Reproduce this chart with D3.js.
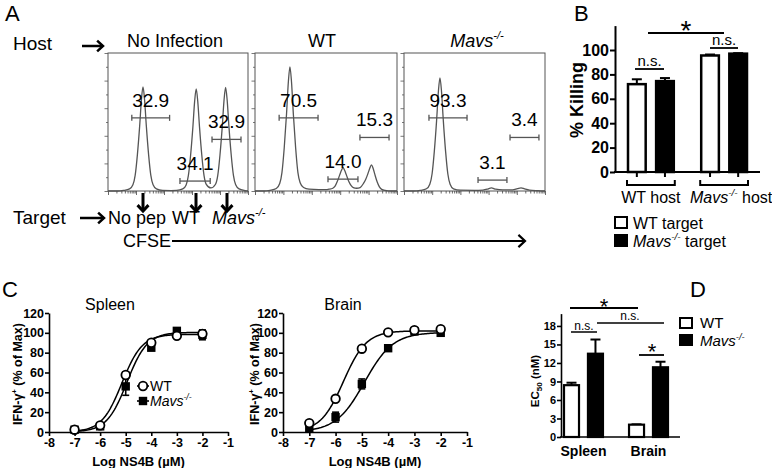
<!DOCTYPE html>
<html><head><meta charset="utf-8">
<script src="https://cdn.jsdelivr.net/npm/d3@7"></script>
<style>
body{margin:0;background:#fff}
svg{font-family:"Liberation Sans",Arial,Helvetica,sans-serif}
</style></head><body>
<svg id="c" width="772" height="468"></svg>
<script>
// ================= DATA =================
// Panel A – CFSE histograms: [CFSE channel 0-100, % of panel height]
const histTitles = ["No Infection", "WT", "Mavs"];
const histNoInfection = [[0,0],[7,0],[11,0.4],[15.4,1.5],[17.8,4.5],[19.4,11.3],[21,26.4],[22.6,46.8],[23.9,66.4],[25,75.5],[26.1,66.4],[27.4,46.8],[29,26.4],[30.6,11.3],[32.2,4.5],[34.6,1.5],[39,0.4],[45,0.3],[49,0.4],[53.4,1.5],[55.8,4.4],[57.4,11.1],[59,25.9],[60.6,45.9],[61.9,65.1],[63,74],[64.1,65.1],[65.4,45.9],[67,25.9],[68.6,11.1],[70.2,4.8],[73.5,2.2],[76.8,4.9],[78.4,11.3],[80,26.3],[81.6,46.5],[82.9,66],[84,75],[85.1,66],[86.4,46.5],[88,26.3],[89.6,11.3],[91.2,4.5],[93.6,1.5],[98,0.3],[100,0]];
const histWT = [[0,0],[6,0],[10.6,0.5],[15,1.8],[17.4,5.4],[19,13.5],[20.6,31.5],[22.2,55.8],[23.5,79.2],[24.6,90],[25.7,79.2],[27,55.8],[28.6,31.5],[30.2,13.5],[31.8,6],[34.2,2.5],[38,1.3],[45,1],[50,1],[52,1.3],[54.8,2],[56.4,3.5],[58,7],[59.6,11.5],[60.9,15],[62,17],[63.1,15],[64.4,11.5],[66,7],[67.6,4],[69.2,2.5],[71.6,2],[74,2.5],[76.4,5.5],[78,8.5],[79.6,12.8],[80.9,16.7],[82,19],[83.1,16.7],[84.4,12],[86,6.7],[87.6,3],[89.2,1.2],[91.6,0.4],[96,0],[100,0]];
const histMavs = [[0,0],[7,0],[11.5,0.4],[15.9,1.6],[18.3,4.9],[19.9,12.3],[21.5,28.7],[23.1,50.8],[24.4,72.2],[25.5,82],[26.6,72.2],[27.9,50.8],[29.5,28.7],[31.1,12.3],[32.7,4.9],[35.1,1.6],[40,0.6],[50,0.5],[56,0.7],[59,1.3],[62,2.3],[65,1.3],[70,0.8],[77,0.8],[80.5,1.7],[83,2.3],[85.5,1.5],[89,0.6],[95,0.2],[100,0]];
// gates: [from, to, height(%), percent label]
const gatesNoInfection = [[17,44,53,"32.9"],[51.4,73,7.2,"34.1"],[74.3,95,37.4,"32.9"]];
const gatesWT = [[17,44.4,53,"70.5"],[51.4,72.5,8.6,"14.0"],[73.9,94.4,38.8,"15.3"]];
const gatesMavs = [[17.7,44.7,53,"93.3"],[52.5,73,7.9,"3.1"],[75.2,95.7,38.8,"3.4"]];

// Panel B – % killing
const hostGroups = ["WT host", "Mavs host"];
const targetGroups = ["WT target", "Mavs target"];
const killWT = [72, 95.5];
const killWTErr = [4, 0.8];
const killMavs = [74.5, 97];
const killMavsErr = [2.5, 0.4];
const killTicks = [0, 20, 40, 60, 80, 100];

// Panel C – dose response
const doseLog = [-7, -6, -5, -4, -3, -2];
const spleenWT = [2.3, 6.7, 57.5, 90, 97, 99];
const spleenWTErr = [0, 0, 3, 2, 2, 3];
const spleenMavs = [2.3, 5.7, 46, 85, 102, 98];
const spleenMavsErr = [0, 1, 9, 2, 2, 5];
const brainWT = [9, 33.5, 84, 100.5, 102.7, 103.7];
const brainWTErr = [0, 1, 2, 1, 1, 1];
const brainMavs = [4, 15, 48.5, 84.5, 101.5, 100];
const brainMavsErr = [1, 5, 5, 2, 1, 1];
// fitted curves: [bottom, top, logEC50, hill slope]
const fitSpleenWT = [0, 98.5, -5.15, 1.1];
const fitSpleenMavs = [0, 100.5, -4.95, 1.1];
const fitBrainWT = [0, 102, -5.7, 1.0];
const fitBrainMavs = [0, 100.5, -4.9, 0.8];
const doseTicks = [-8, -7, -6, -5, -4, -3, -2, -1];
const ifnTicks = [0, 20, 40, 60, 80, 100, 120];

// Panel D – EC50
const organs = ["Spleen", "Brain"];
const ec50WT = [8.4, 2.0];
const ec50WTErr = [0.4, 0.05];
const ec50Mavs = [13.5, 11.3];
const ec50MavsErr = [2.3, 0.9];
const ec50Ticks = [0, 3, 6, 9, 12, 15, 18];

// ================= DRAWING =================
const svg = d3.select("#c");

function addText(x, y, parts, o) {
  const t = svg.append("text").attr("x", x).attr("y", y)
    .attr("font-size", o.size).attr("font-weight", o.weight || "normal")
    .attr("text-anchor", o.anchor || "start").attr("fill", o.fill || "#000");
  if (o.rotate) t.attr("transform", `rotate(-90,${x},${y})`);
  if (typeof parts === "string") parts = [{t: parts}];
  let shift = 0;
  parts.forEach(p => {
    const ts = t.append("tspan").text(p.t);
    if (p.i) ts.attr("font-style", "italic");
    let target = 0, fs = null;
    if (p.sup) { target = -o.size * 0.42; fs = o.size * 0.62; }
    if (p.sub) { target = o.size * 0.22; fs = o.size * 0.7; }
    if (fs) ts.attr("font-size", fs);
    if (target !== shift) { ts.attr("dy", target - shift); shift = target; }
  });
  return t;
}
const mavsParts = (suffix) => [{t: "Mavs", i: 1}, {t: "-/-", i: 1, sup: 1}].concat(suffix ? [{t: suffix}] : []);

function arrow(g, x1, y1, x2, y2, w, head) {
  g.append("line").attr("x1", x1).attr("y1", y1).attr("x2", x2).attr("y2", y2)
    .attr("stroke", "#000").attr("stroke-width", w);
  const a = Math.atan2(y2 - y1, x2 - x1);
  const pts = [[x2 - head * Math.cos(a - 0.75), y2 - head * Math.sin(a - 0.75)], [x2, y2],
               [x2 - head * Math.cos(a + 0.75), y2 - head * Math.sin(a + 0.75)]];
  g.append("path").attr("d", d3.line()(pts)).attr("fill", "none")
    .attr("stroke", "#000").attr("stroke-width", w).attr("stroke-linejoin", "miter");
}

function styleAxis(ax, size, sw) {
  ax.attr("font-family", null).attr("font-size", null);
  ax.selectAll("path.domain").attr("stroke", "#000").attr("stroke-width", sw);
  ax.selectAll(".tick line").attr("stroke", "#000").attr("stroke-width", sw);
  ax.selectAll(".tick text").attr("font-size", size).attr("font-weight", "bold").attr("fill", "#000");
}

// ---------- Panel A ----------
const gA = svg.append("g");
addText(5, 21, "A", {size: 22});
addText(13, 50, "Host", {size: 19});
arrow(gA, 82, 46, 103, 46, 2.5, 8);

const histData = [histNoInfection, histWT, histMavs];
const gateData = [gatesNoInfection, gatesWT, gatesMavs];
const histBox = [[108, 248], [255, 397], [404, 545]];
const titleX = [175, 322, 477];
const hTop = 53, hBot = 191;

histData.forEach((hd, k) => {
  const x = d3.scaleLinear().domain([0, 100]).range(histBox[k]);
  const y = d3.scaleLinear().domain([0, 100]).range([hBot, hTop]);
  const g = svg.append("g");
  g.append("rect").attr("x", x(0)).attr("y", y(100)).attr("width", x(100) - x(0)).attr("height", y(0) - y(100))
    .attr("fill", "none").attr("stroke", "#555").attr("stroke-width", 1);
  const ay = g.append("g").attr("transform", `translate(${x(0)},0)`)
    .call(d3.axisLeft(y).tickValues(d3.range(0, 101, 10)).tickSize(3).tickFormat("").tickSizeOuter(0));
  ay.selectAll("path.domain").remove();
  ay.selectAll(".tick line").attr("stroke", "#555").attr("stroke-width", 0.8)
    .attr("x2", (d) => d % 20 === 0 ? -3.5 : -2);
  const lx = d3.scaleLog().domain([1, 1e5]).range(histBox[k]);
  const ax = g.append("g").attr("transform", `translate(0,${hBot})`)
    .call(d3.axisBottom(lx).tickValues(lx.ticks()).tickFormat("").tickSize(3).tickSizeOuter(0));
  ax.selectAll("path.domain").remove();
  ax.selectAll(".tick line").attr("stroke", "#444").attr("stroke-width", 0.8)
    .attr("y2", d => Math.abs(Math.log10(d) - Math.round(Math.log10(d))) < 1e-6 ? 4 : 2.5);
  g.append("path").datum(hd)
    .attr("d", d3.line().x(d => x(d[0])).y(d => y(d[1])).curve(d3.curveMonotoneX))
    .attr("fill", "none").attr("stroke", "#555").attr("stroke-width", 1.3);
  gateData[k].forEach(gt => {
    const gy = y(gt[2]);
    g.append("line").attr("x1", x(gt[0])).attr("x2", x(gt[1])).attr("y1", gy).attr("y2", gy)
      .attr("stroke", "#555").attr("stroke-width", 1.3);
    [gt[0], gt[1]].forEach(v => g.append("line").attr("x1", x(v)).attr("x2", x(v))
      .attr("y1", gy - 3).attr("y2", gy + 3).attr("stroke", "#555").attr("stroke-width", 1.3));
    addText((x(gt[0]) + x(gt[1])) / 2, gy - 11, gt[3], {size: 19, anchor: "middle"});
  });
  if (k === 2) addText(titleX[k], 47, mavsParts(null), {size: 18, anchor: "middle"});
  else addText(titleX[k], 47, histTitles[k], {size: 18, anchor: "middle"});
});

addText(13, 224, "Target", {size: 19});
arrow(gA, 80, 218, 104, 218, 2.5, 8);
addText(108, 224, "No pep", {size: 18});
addText(172, 224, "WT", {size: 18});
addText(212, 224, mavsParts(null), {size: 18});
[143, 196, 227].forEach(ax => arrow(gA, ax, 193, ax, 211, 3, 8));
addText(123, 247, "CFSE", {size: 18});
arrow(gA, 172, 241, 525, 241, 2.2, 9);

// ---------- Panel B ----------
addText(574, 21, "B", {size: 22});
const xB0 = d3.scaleBand().domain(hostGroups).range([627, 748]).paddingInner(0.347);
const xB1 = d3.scaleBand().domain(targetGroups).range([0, xB0.bandwidth()]).paddingInner(0.3);
const yB = d3.scaleLinear().domain([0, 120]).range([172, 25.6]);
const gB = svg.append("g");
const axB = gB.append("g").attr("transform", "translate(615,0)")
  .call(d3.axisLeft(yB).tickValues(killTicks).tickSize(5).tickSizeOuter(0).tickPadding(1));
styleAxis(axB, 16, 2);
gB.append("line").attr("x1", 614).attr("x2", 760).attr("y1", yB(0)).attr("y2", yB(0))
  .attr("stroke", "#000").attr("stroke-width", 2);
const killSeries = [[killWT, killWTErr, "#fff"], [killMavs, killMavsErr, "#000"]];
hostGroups.forEach((hg, i) => {
  targetGroups.forEach((tg, j) => {
    const [vals, errs, fill] = killSeries[j];
    const bx = xB0(hg) + xB1(tg), bw = xB1.bandwidth(), cx = bx + bw / 2;
    gB.append("line").attr("x1", cx).attr("x2", cx).attr("y1", yB(vals[i])).attr("y2", yB(vals[i] + errs[i]))
      .attr("stroke", "#000").attr("stroke-width", 2);
    gB.append("line").attr("x1", cx - 5).attr("x2", cx + 5).attr("y1", yB(vals[i] + errs[i])).attr("y2", yB(vals[i] + errs[i]))
      .attr("stroke", "#000").attr("stroke-width", 2);
    gB.append("rect").attr("x", bx + 1).attr("y", yB(vals[i])).attr("width", bw - 2).attr("height", yB(0) - yB(vals[i]))
      .attr("fill", fill).attr("stroke", "#000").attr("stroke-width", 2.5);
    gB.append("line").attr("x1", cx).attr("x2", cx).attr("y1", yB(0)).attr("y2", yB(0) + 5)
      .attr("stroke", "#000").attr("stroke-width", 2);
  });
  const gx0 = xB0(hg), gx1 = xB0(hg) + xB0.bandwidth();
  gB.append("path").attr("d", `M${gx0},180V185H${gx1}V180`).attr("fill", "none")
    .attr("stroke", "#000").attr("stroke-width", 2);
  const lc = (gx0 + gx1) / 2;
  if (i === 0) addText(lc, 203, hg, {size: 16, anchor: "middle"});
  else addText(lc + 7, 203, mavsParts(" host"), {size: 16, anchor: "middle"});
});
gB.append("line").attr("x1", 648).attr("x2", 724).attr("y1", 33).attr("y2", 33).attr("stroke", "#000").attr("stroke-width", 2);
addText(686, 40, "*", {size: 28, anchor: "middle"});
gB.append("line").attr("x1", 635).attr("x2", 664).attr("y1", 69).attr("y2", 69).attr("stroke", "#000").attr("stroke-width", 1.8);
addText(649.5, 66, "n.s.", {size: 15, anchor: "middle"});
gB.append("line").attr("x1", 710).attr("x2", 738).attr("y1", 48).attr("y2", 48).attr("stroke", "#000").attr("stroke-width", 1.8);
addText(724, 45, "n.s.", {size: 15, anchor: "middle"});
addText(583, 100, "% Killing", {size: 18, weight: "bold", anchor: "middle", rotate: true});
gB.append("rect").attr("x", 615).attr("y", 217).attr("width", 12).attr("height", 11).attr("fill", "#fff").attr("stroke", "#000").attr("stroke-width", 2);
gB.append("rect").attr("x", 615).attr("y", 235).attr("width", 12).attr("height", 11).attr("fill", "#000").attr("stroke", "#000").attr("stroke-width", 2);
addText(633, 229, targetGroups[0], {size: 16});
addText(633, 247, mavsParts(" target"), {size: 16});

// ---------- Panel C ----------
addText(2, 297, "C", {size: 22});
function drawDose(px0, px1, title, tX, ylX, wt, wtE, mv, mvE, fW, fM, legend) {
  const x = d3.scaleLinear().domain([-8, -1]).range([px0, px1]);
  const y = d3.scaleLinear().domain([0, 120]).range([432, 313]);
  const g = svg.append("g");
  const ax = g.append("g").attr("transform", `translate(0,${y(0)})`)
    .call(d3.axisBottom(x).tickValues(doseTicks).tickFormat(d => String(d)).tickSize(4).tickSizeOuter(0).tickPadding(2));
  const ay = g.append("g").attr("transform", `translate(${px0},0)`)
    .call(d3.axisLeft(y).tickValues(ifnTicks).tickSize(4).tickSizeOuter(0).tickPadding(1));
  styleAxis(ax, 12.5, 1.6); styleAxis(ay, 12.5, 1.6);
  const hill = (p, v) => p[0] + (p[1] - p[0]) / (1 + Math.pow(10, (p[2] - v) * p[3]));
  const xs = d3.range(-7, -1.999, 0.05);
  [fW, fM].forEach(p => g.append("path").datum(xs)
    .attr("d", d3.line().x(v => x(v)).y(v => y(hill(p, v))))
    .attr("fill", "none").attr("stroke", "#000").attr("stroke-width", 1.5));
  [[mv, mvE], [wt, wtE]].forEach(([vals, errs]) => doseLog.forEach((d, i) => {
    if (!errs[i]) return;
    const cx = x(d);
    g.append("line").attr("x1", cx).attr("x2", cx).attr("y1", y(vals[i] - errs[i])).attr("y2", y(vals[i] + errs[i])).attr("stroke", "#000").attr("stroke-width", 1.6);
    [vals[i] - errs[i], vals[i] + errs[i]].forEach(e => g.append("line").attr("x1", cx - 3.5).attr("x2", cx + 3.5).attr("y1", y(e)).attr("y2", y(e)).attr("stroke", "#000").attr("stroke-width", 1.6));
  }));
  doseLog.forEach((d, i) => g.append("rect").attr("x", x(d) - 4.2).attr("y", y(mv[i]) - 4.2).attr("width", 8.4).attr("height", 8.4).attr("fill", "#000"));
  doseLog.forEach((d, i) => g.append("circle").attr("cx", x(d)).attr("cy", y(wt[i])).attr("r", 4.3).attr("fill", "#fff").attr("stroke", "#000").attr("stroke-width", 1.8));
  addText(tX, 310, title, {size: 16, anchor: "middle"});
  addText((px0 + px1) / 2, 466, [{t: "Log NS4B (\u00b5M)"}], {size: 13, weight: "bold", anchor: "middle"});
  addText(ylX, 374, [{t: "IFN-\u03b3"}, {t: "+", sup: 1}, {t: " (% of Max)"}], {size: 12.5, weight: "bold", anchor: "middle", rotate: true});
  if (legend) {
    const lx = 143;
    g.append("line").attr("x1", lx - 6).attr("x2", lx + 6).attr("y1", 386).attr("y2", 386).attr("stroke", "#000").attr("stroke-width", 1.6);
    g.append("circle").attr("cx", lx).attr("cy", 386).attr("r", 4.3).attr("fill", "#fff").attr("stroke", "#000").attr("stroke-width", 1.8);
    g.append("line").attr("x1", lx - 6).attr("x2", lx + 6).attr("y1", 401).attr("y2", 401).attr("stroke", "#000").attr("stroke-width", 1.6);
    g.append("rect").attr("x", lx - 4.2).attr("y", 401 - 4.2).attr("width", 8.4).attr("height", 8.4).attr("fill", "#000");
    addText(150, 391, "WT", {size: 14});
    addText(150, 406, mavsParts(null), {size: 14});
  }
}
drawDose(49, 228, organs[0], 110, 22, spleenWT, spleenWTErr, spleenMavs, spleenMavsErr, fitSpleenWT, fitSpleenMavs, true);
drawDose(283, 467, organs[1], 343, 259, brainWT, brainWTErr, brainMavs, brainMavsErr, fitBrainWT, fitBrainMavs, false);

// ---------- Panel D ----------
addText(690, 297, "D", {size: 22});
const xD0 = d3.scaleBand().domain(organs).range([563, 669]).paddingInner(0.37);
const xD1 = d3.scaleBand().domain(["WT", "Mavs"]).range([0, xD0.bandwidth()]).paddingInner(0.29);
const yD = d3.scaleLinear().domain([0, 20]).range([437, 313.6]);
const gD = svg.append("g");
const axD = gD.append("g").attr("transform", "translate(561,0)")
  .call(d3.axisLeft(yD).tickValues(ec50Ticks).tickSize(4).tickSizeOuter(0).tickPadding(1));
styleAxis(axD, 11, 1.6);
gD.append("line").attr("x1", 560).attr("x2", 680).attr("y1", yD(0)).attr("y2", yD(0)).attr("stroke", "#000").attr("stroke-width", 1.6);
const ecSeries = [["WT", ec50WT, ec50WTErr, "#fff"], ["Mavs", ec50Mavs, ec50MavsErr, "#000"]];
organs.forEach((o, i) => {
  ecSeries.forEach(([k, vals, errs, fill]) => {
    const bx = xD0(o) + xD1(k), bw = xD1.bandwidth(), cx = bx + bw / 2;
    gD.append("line").attr("x1", cx).attr("x2", cx).attr("y1", yD(vals[i])).attr("y2", yD(vals[i] + errs[i])).attr("stroke", "#000").attr("stroke-width", 2);
    gD.append("line").attr("x1", cx - 5).attr("x2", cx + 5).attr("y1", yD(vals[i] + errs[i])).attr("y2", yD(vals[i] + errs[i])).attr("stroke", "#000").attr("stroke-width", 2);
    gD.append("rect").attr("x", bx + 1).attr("y", yD(vals[i])).attr("width", bw - 2).attr("height", yD(0) - yD(vals[i]))
      .attr("fill", fill).attr("stroke", "#000").attr("stroke-width", 2.2);
  });
  addText(xD0(o) + xD0.bandwidth() / 2, 456, o, {size: 14, weight: "bold", anchor: "middle"});
});
addText(539, 381, [{t: "EC"}, {t: "50", sub: 1}, {t: " (nM)"}], {size: 11.5, weight: "bold", anchor: "middle", rotate: true});
gD.append("line").attr("x1", 570).attr("x2", 638).attr("y1", 308).attr("y2", 308).attr("stroke", "#000").attr("stroke-width", 1.8);
addText(604, 314, "*", {size: 22, anchor: "middle"});
gD.append("line").attr("x1", 571).attr("x2", 597).attr("y1", 332).attr("y2", 332).attr("stroke", "#000").attr("stroke-width", 1.5);
addText(584, 329.5, "n.s.", {size: 12, anchor: "middle"});
gD.append("line").attr("x1", 597).attr("x2", 664).attr("y1", 323).attr("y2", 323).attr("stroke", "#000").attr("stroke-width", 1.5);
addText(630, 320, "n.s.", {size: 12, anchor: "middle"});
gD.append("line").attr("x1", 639).attr("x2", 664).attr("y1", 355).attr("y2", 355).attr("stroke", "#000").attr("stroke-width", 1.8);
addText(652, 359, "*", {size: 22, anchor: "middle"});
gD.append("rect").attr("x", 680).attr("y", 318).attr("width", 12).attr("height", 10).attr("fill", "#fff").attr("stroke", "#000").attr("stroke-width", 2);
gD.append("rect").attr("x", 680).attr("y", 335).attr("width", 12).attr("height", 10).attr("fill", "#000").attr("stroke", "#000").attr("stroke-width", 2);
addText(700, 328, "WT", {size: 15});
addText(700, 346, mavsParts(null), {size: 15});
</script>
</body></html>
